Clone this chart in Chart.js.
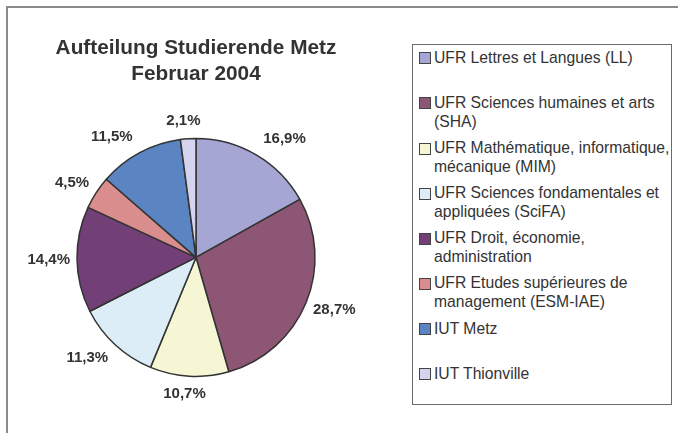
<!DOCTYPE html>
<html>
<head>
<meta charset="utf-8">
<script src="https://cdn.jsdelivr.net/npm/chart.js@4"></script>
<style>
    body { margin: 0; background: #fff; font-family: "Liberation Sans", Arial, sans-serif; }
    #frame { position: absolute; left: 6px; top: 6px; width: 720px; height: 480px; border-left: 2px solid #8a8a8a; border-top: 2px solid #8a8a8a; }
    #pie-wrap { position: absolute; left: 0; top: 0; width: 392px; height: 433px; }
    #legend { position: absolute; left: 412px; top: 44px; width: 260px; height: 361px; box-sizing: border-box; border: 1px solid #6b6b6b; padding-top: 4px; background: #fff; }
    .item { position: relative; height: 45.1px; }
    .swatch { position: absolute; left: 6px; top: 3.4px; width: 10px; height: 10px; border: 1px solid #444; }
    .text { position: absolute; left: 21px; top: 0; font-size: 15.7px; line-height: 18.7px; color: #333; white-space: nowrap; }
</style>
</head>
<body>
<div id="frame"></div>
<div id="pie-wrap"><canvas id="pieChart"></canvas></div>
<div id="legend"></div>

<script>
const categories = [
    ['UFR Lettres et Langues (LL)'],
    ['UFR Sciences humaines et arts', '(SHA)'],
    ['UFR Mathématique, informatique,', 'mécanique (MIM)'],
    ['UFR Sciences fondamentales et', 'appliquées (SciFA)'],
    ['UFR Droit, économie,', 'administration'],
    ['UFR Etudes supérieures de', 'management (ESM-IAE)'],
    ['IUT Metz'],
    ['IUT Thionville']
];
const shares = [16.9, 28.7, 10.7, 11.3, 14.4, 4.5, 11.5, 2.1];
const sliceColors = ['#A6A6D5', '#8E5675', '#F6F6D4', '#DDEDF8', '#733F77', '#D98E8D', '#5B84C2', '#D4D4EF'];
const titleLines = ['Aufteilung Studierende Metz', 'Februar 2004'];

// percent labels outside the slices, pushed sideways like the office chart does
const outsideLabels = {
    id: 'outsideLabels',
    afterDatasetsDraw(chart) {
        const ctx = chart.ctx;
        const meta = chart.getDatasetMeta(0);
        ctx.save();
        ctx.font = 'bold 15px "Liberation Sans", Arial, sans-serif';
        ctx.fillStyle = '#333';
        ctx.textAlign = 'center';
        ctx.textBaseline = 'middle';
        meta.data.forEach((arc, i) => {
            const p = arc.getProps(['x', 'y', 'startAngle', 'endAngle', 'outerRadius'], true);
            const a = (p.startAngle + p.endAngle) / 2;
            const text = shares[i].toFixed(1).replace('.', ',') + '%';
            const w = ctx.measureText(text).width;
            const dx = Math.cos(a), dy = Math.sin(a);
            const ex = p.x + dx * p.outerRadius;
            const ey = p.y + dy * p.outerRadius;
            const ox = Math.max(-1, Math.min(1, dx * 3)) * (w / 2 + 7);
            const oy = dy * 18;
            ctx.fillText(text, ex + ox, ey + oy);
        });
        ctx.restore();
    }
};

function buildLegend() {
    const box = document.getElementById('legend');
    categories.forEach((lines, i) => {
        const item = document.createElement('div');
        item.className = 'item';
        const sw = document.createElement('span');
        sw.className = 'swatch';
        sw.style.background = sliceColors[i];
        const txt = document.createElement('span');
        txt.className = 'text';
        txt.innerHTML = lines.join('<br>');
        item.appendChild(sw);
        item.appendChild(txt);
        box.appendChild(item);
    });
}

new Chart(document.getElementById('pieChart'), {
    type: 'pie',
    data: {
        labels: categories,
        datasets: [{
            data: shares,
            backgroundColor: sliceColors,
            borderColor: '#333',
            borderWidth: 1.5
        }]
    },
    options: {
        responsive: true,
        maintainAspectRatio: false,
        animation: false,
        radius: 119,
        layout: { padding: { top: 0, bottom: 19, left: 0, right: 0 } },
        plugins: {
            legend: { display: false },
            tooltip: { enabled: false },
            title: {
                display: true,
                text: titleLines,
                color: '#333',
                font: { family: '"Liberation Sans", Arial, sans-serif', size: 20.8, weight: 'bold', lineHeight: 1.235 },
                padding: { top: 35.5, bottom: 14 }
            }
        }
    },
    plugins: [outsideLabels]
});

buildLegend();
</script>
</body>
</html>
